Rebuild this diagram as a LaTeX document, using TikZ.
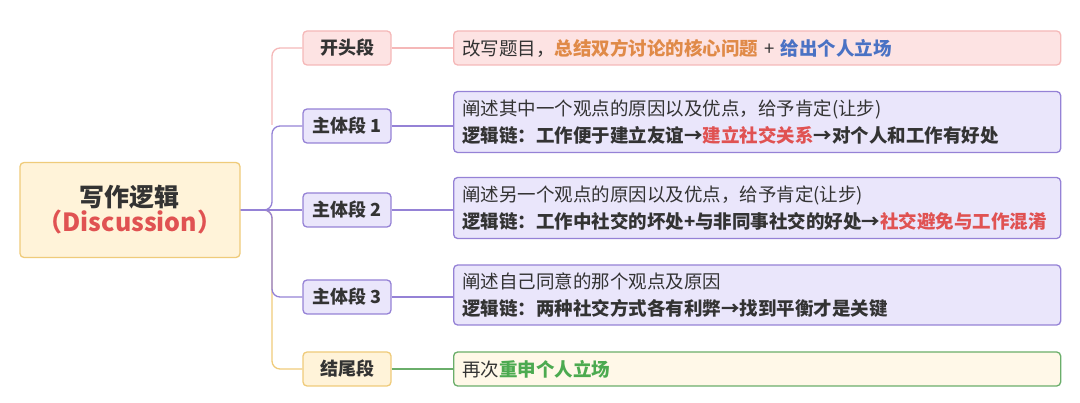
\documentclass[tikz,border=0pt]{standalone}
\usepackage{fontspec}
\setmainfont{Noto Sans CJK SC}
\begin{document}
\definecolor{pinkF}{HTML}{FDE3E3}\definecolor{pinkD}{HTML}{F5B8B8}
\definecolor{purF}{HTML}{EAE6FB}\definecolor{purD}{HTML}{9582D6}
\definecolor{yelF}{HTML}{FFF3D9}\definecolor{yelD}{HTML}{EFCB7A}
\definecolor{grnD}{HTML}{6AAE6A}\definecolor{txt}{HTML}{333333}
\definecolor{orT}{HTML}{E08A48}\definecolor{blT}{HTML}{4A72C4}
\definecolor{rdT}{HTML}{E05252}\definecolor{gnT}{HTML}{4CAA50}
\begin{tikzpicture}[x=1pt,y=-1pt,
  box/.style={draw,line width=1.3pt,rounded corners=4pt,inner sep=0pt,text=txt},
  lone/.style={box,minimum width=88pt,minimum height=34pt,font=\fontsize{18}{20}\selectfont\bfseries},
  ltwo/.style={box,minimum width=607pt,anchor=west,align=left,text width=590pt,font=\fontsize{18.5}{27}\selectfont},
  con/.style={line width=1.3pt,rounded corners=8pt}]
\useasboundingbox (0,0) rectangle (1080,403);
\node[box,fill=yelF,draw=yelD,minimum width=220pt,minimum height=95pt,align=center] (root) at (130,210)
  {{\fontsize{25}{38}\selectfont\bfseries 写作逻辑}\\{\fontsize{25}{38}\selectfont\bfseries\color{rdT}（Discussion）}};
\node[lone,fill=pinkF,draw=pinkD] (a) at (347,48) {开头段};
\node[lone,fill=purF,draw=purD] (b) at (347,126) {主体段 1};
\node[lone,fill=purF,draw=purD] (c) at (347,210) {主体段 2};
\node[lone,fill=purF,draw=purD] (d) at (347,297) {主体段 3};
\node[lone,fill=yelF,draw=yelD] (e) at (347,369) {结尾段};
\node[ltwo,fill=pinkF,draw=pinkD,minimum height=34pt] (a2) at (453,48) {改写题目，{\bfseries\color{orT}总结双方讨论的核心问题} + {\bfseries\color{blT}给出个人立场}};
\node[ltwo,fill=purF,draw=purD,minimum height=61pt] (b2) at (453,122) {阐述其中一个观点的原因以及优点，给予肯定(让步)\\{\bfseries 逻辑链：工作便于建立友谊→{\color{rdT}建立社交关系}→对个人和工作有好处}};
\node[ltwo,fill=purF,draw=purD,minimum height=61pt] (c2) at (453,208) {阐述另一个观点的原因以及优点，给予肯定(让步)\\{\bfseries 逻辑链：工作中社交的坏处+与非同事社交的好处→{\color{rdT}社交避免与工作混淆}}};
\node[ltwo,fill=purF,draw=purD,minimum height=60pt] (d2) at (453,295) {阐述自己同意的那个观点及原因\\{\bfseries 逻辑链：两种社交方式各有利弊→找到平衡才是关键}};
\node[ltwo,fill=yelF!60,draw=grnD,minimum height=34pt] (e2) at (453,369) {再次{\bfseries\color{gnT}重申个人立场}};
\coordinate (j) at (272,210);
\draw[con,yelD] (root.east) -- (j) |- (e.west);
\draw[con,purD] (root.east) -- (j) |- (d.west);
\draw[con,purD] (root.east) -- (c.west);
\draw[con,purD] (root.east) -- (j) |- (b.west);
\draw[con,pinkD] (272,125) |- (a.west);
\draw[con,pinkD] (a) -- (a2); \draw[con,purD] (b) -- (b2.west|-b); \draw[con,purD] (c) -- (c2.west|-c);
\draw[con,purD] (d) -- (d2.west|-d); \draw[con,grnD] (e) -- (e2);
\end{tikzpicture}
\end{document}
